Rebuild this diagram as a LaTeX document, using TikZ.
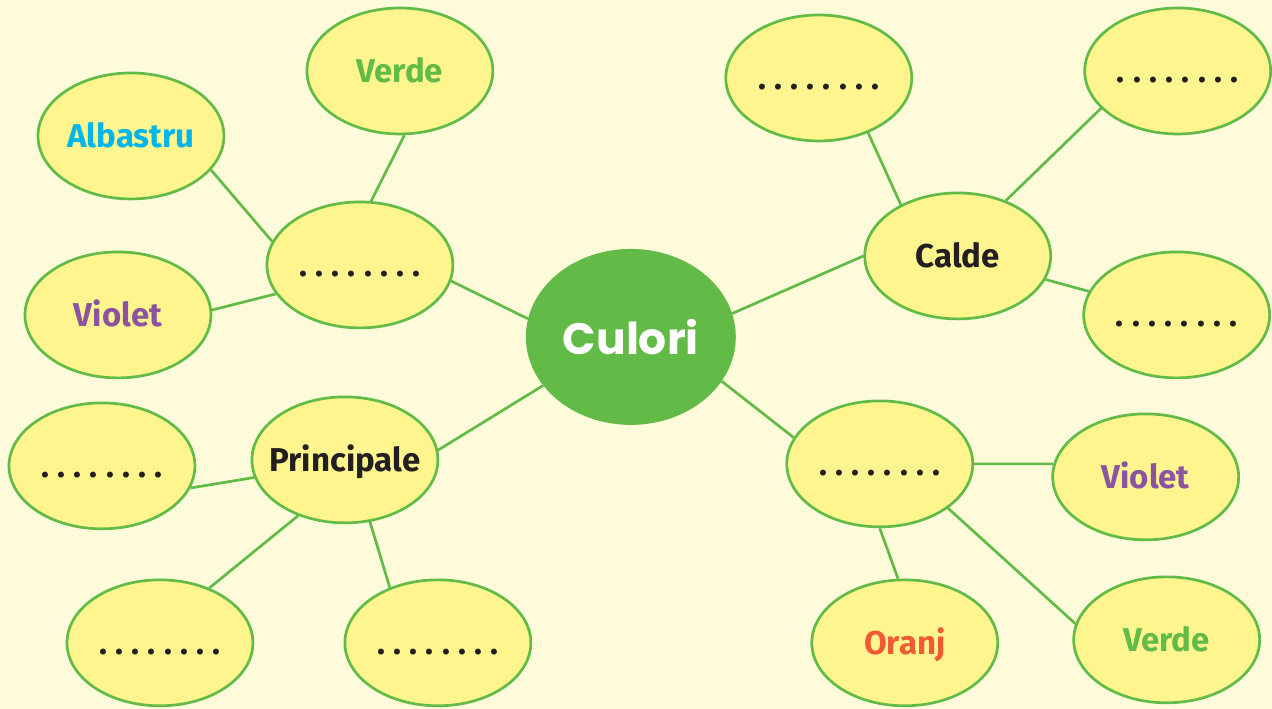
\documentclass[tikz,border=0pt]{standalone}
\usepackage{fontspec}
\setmainfont{Fira Sans}
\newfontfamily\headfont{Poppins}
\usetikzlibrary{shapes.geometric}

\definecolor{bgcream}{HTML}{FEFBDB}
\definecolor{bubblefill}{HTML}{FFF58E}
\definecolor{leafgreen}{HTML}{62BB46}
\definecolor{skyblue}{HTML}{00B5EA}
\definecolor{plum}{HTML}{8B53A0}
\definecolor{tangerine}{HTML}{F05A35}
\definecolor{inkblack}{HTML}{231F20}

\newcommand{\blankdots}{.\foreach \k in {1,...,7}{\hspace{8.3pt}.}}

\begin{document}
\begin{tikzpicture}[
    x=1pt, y=-1pt,
    every node/.style={font=\fontsize{33}{35}\selectfont\bfseries},
    bubble/.style={
      ellipse, draw=leafgreen, line width=2.7pt, fill=bubblefill,
      minimum width=186pt, minimum height=126pt, inner xsep=-14pt, inner ysep=0pt,
      text height=23pt, text depth=0pt, text=inkblack
    },
    hub/.style={
      ellipse, fill=leafgreen, minimum width=210pt, minimum height=176pt,
      inner sep=0pt, text=white, font=\headfont\fontsize{44}{46}\selectfont\bfseries
    },
    link/.style={leafgreen, line width=2.7pt}
  ]
    \fill[bgcream] (0,0) rectangle (1272,709);

    \node[hub] (culori) at (631,337) {Culori};

    % upper left group
    \node[bubble] (mixL) at (360,265) {\blankdots};
    \node[bubble, text=leafgreen] (verdeL) at (400,71) {Verde};
    \node[bubble, text=skyblue] (albastru) at (131,136) {Albastru};
    \node[bubble, text=plum] (violetL) at (118,315) {Violet};

    % lower left group
    \node[bubble] (principale) at (345,460) {Principale};
    \node[bubble] (prinA) at (102,466) {\blankdots};
    \node[bubble] (prinB) at (160,643) {\blankdots};
    \node[bubble] (prinC) at (438,643) {\blankdots};

    % upper right group
    \node[bubble] (calde) at (958,256) {Calde};
    \node[bubble] (caldA) at (819,78) {\blankdots};
    \node[bubble] (caldB) at (1178,71) {\blankdots};
    \node[bubble] (caldC) at (1177,315) {\blankdots};

    % lower right group
    \node[bubble] (mixR) at (880,464) {\blankdots};
    \node[bubble, text=plum] (violetR) at (1146,477) {Violet};
    \node[bubble, text=tangerine] (oranj) at (905,643) {Oranj};
    \node[bubble, text=leafgreen] (verdeR) at (1167,640) {Verde};

    \draw[link] (culori.170) -- (mixL.-10);
    \draw[link] (culori.-151) -- (principale.6);
    \draw[link] (culori.13) -- (calde.180);
    \draw[link] (culori.-26) -- (mixR.163);

    \draw[link] (mixL.80) -- (verdeL.-86);
    \draw[link] (mixL.165) -- (albastru.-23);
    \draw[link] (mixL.-161) -- (violetL.3);

    \draw[link] (principale.191) -- (prinA.-14);
    \draw[link] (principale.230) -- (prinB.48);
    \draw[link] (principale.-68) -- (prinC.131);

    \draw[link] (calde.138) -- (caldA.-48);
    \draw[link] (calde.49) -- (caldB.-154);
    \draw[link] (calde.-15) -- (caldC.165);

    \draw[link] (mixR.0) -- (violetR.172);
    \draw[link] (mixR.-90) -- (oranj.96);
    \draw[link] (mixR.-33) -- (verdeR.170);
\end{tikzpicture}
\end{document}
